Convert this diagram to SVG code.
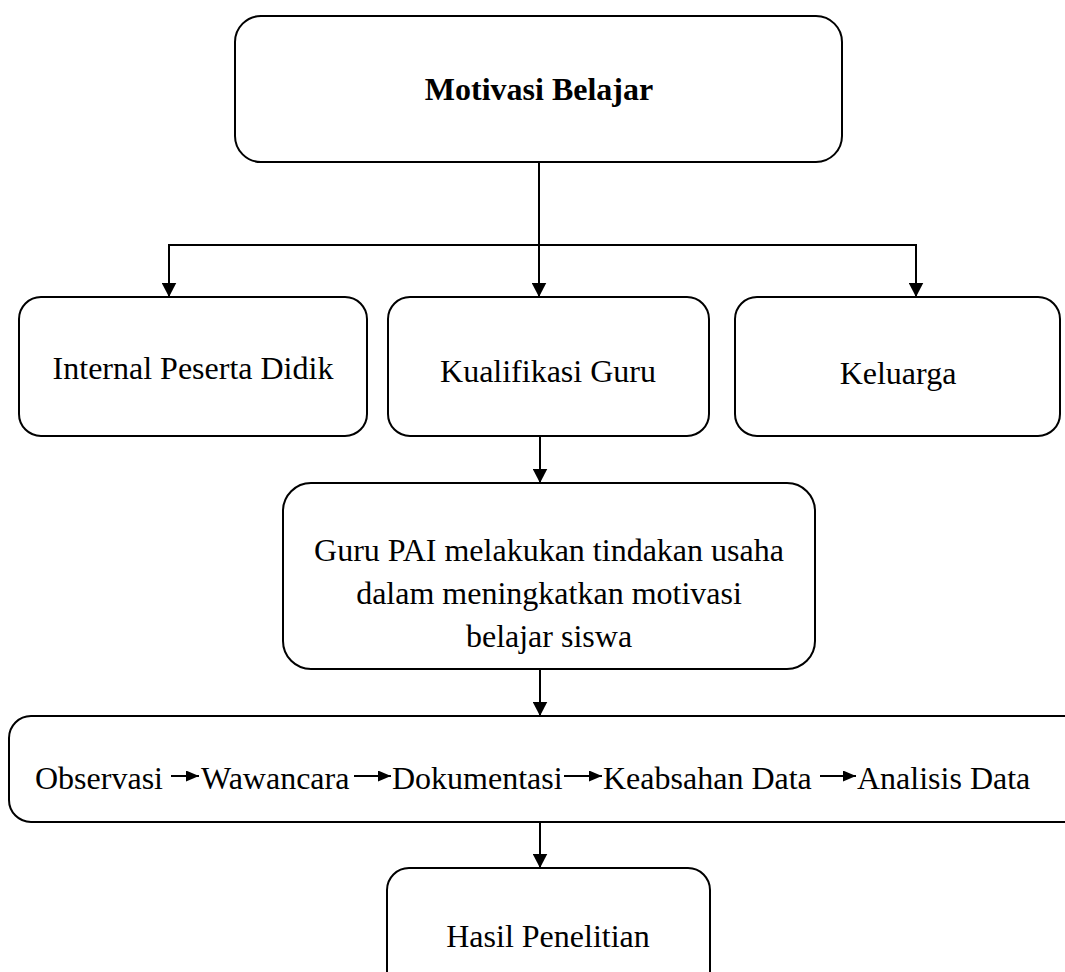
<svg xmlns="http://www.w3.org/2000/svg" width="1065" height="972" viewBox="0 0 1065 972">
<style>
.box{fill:#fff;stroke:#000;stroke-width:2}
.t{font-family:"Liberation Serif","Times New Roman",serif;font-size:32px;fill:#000}
.c{text-anchor:middle}
.b{font-weight:bold}
.con{fill:none;stroke:#000;stroke-width:2}
.sm{fill:none;stroke:#000;stroke-width:2}
</style>
<defs>
<marker id="ah" markerUnits="userSpaceOnUse" markerWidth="15" markerHeight="15" refX="14.5" refY="7.5" orient="auto">
<path d="M0,0 L14.5,7.5 L0,15 z" fill="#000"/>
</marker>
<marker id="sh" markerUnits="userSpaceOnUse" markerWidth="13" markerHeight="11" refX="13" refY="5.5" orient="auto">
<path d="M0,0 L13,5.5 L0,11 z" fill="#000"/>
</marker>
</defs>
<g id="connectors">
<path class="con" d="M539,162 V297" marker-end="url(#ah)"/>
<path class="con" d="M169,297 V245 H916 V297" marker-end="url(#ah)"/>
<path class="con" d="M169,245 V297" marker-end="url(#ah)"/>
<path class="con" d="M540,436 V483" marker-end="url(#ah)"/>
<path class="con" d="M540,669 V716" marker-end="url(#ah)"/>
<path class="con" d="M540,822 V868" marker-end="url(#ah)"/>
</g>
<g id="n-motivasi">
<rect class="box" x="235" y="16" width="607" height="146" rx="26"/>
<text class="t c b" x="539" y="100">Motivasi Belajar</text>
</g>
<g id="n-internal">
<rect class="box" x="19" y="297" width="348" height="139" rx="22"/>
<text class="t c" x="193" y="379">Internal Peserta Didik</text>
</g>
<g id="n-kualifikasi">
<rect class="box" x="388" y="297" width="321" height="139" rx="22"/>
<text class="t c" x="548" y="382">Kualifikasi Guru</text>
</g>
<g id="n-keluarga">
<rect class="box" x="735" y="297" width="325" height="139" rx="22"/>
<text class="t c" x="898" y="384">Keluarga</text>
</g>
<g id="n-guru">
<rect class="box" x="283" y="483" width="532" height="186" rx="28"/>
<text class="t c" x="549" y="561">Guru PAI melakukan tindakan usaha</text>
<text class="t c" x="549" y="604">dalam meningkatkan motivasi</text>
<text class="t c" x="549" y="647">belajar siswa</text>
</g>
<g id="n-metode">
<rect class="box" x="9" y="716" width="1080" height="106" rx="22"/>
<text class="t" x="35" y="789">Observasi</text>
<path class="sm" d="M171,776 H199" marker-end="url(#sh)"/>
<text class="t" x="201" y="789">Wawancara</text>
<path class="sm" d="M354,776 H391" marker-end="url(#sh)"/>
<text class="t" x="392" y="789">Dokumentasi</text>
<path class="sm" d="M564,776 H602" marker-end="url(#sh)"/>
<text class="t" x="603" y="789">Keabsahan Data</text>
<path class="sm" d="M820,776 H856" marker-end="url(#sh)"/>
<text class="t" x="857" y="789">Analisis Data</text>
</g>
<g id="n-hasil">
<rect class="box" x="387" y="868" width="323" height="130" rx="22"/>
<text class="t c" x="548" y="947">Hasil Penelitian</text>
</g>
</svg>
